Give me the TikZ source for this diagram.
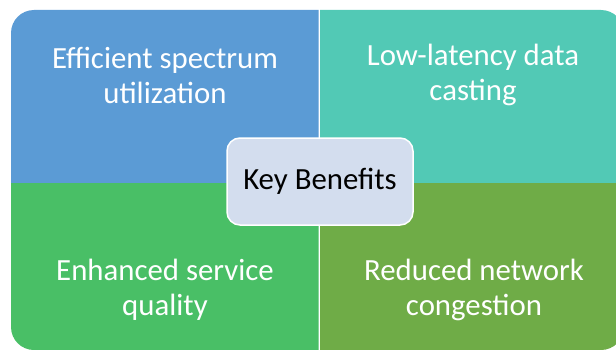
\documentclass[tikz,border=0pt]{standalone}
\usepackage{fontspec}
\setmainfont{Carlito}
\definecolor{quadblue}{HTML}{5B9BD5}
\definecolor{quadteal}{HTML}{52C9B5}
\definecolor{quadgreen}{HTML}{49BF66}
\definecolor{quadolive}{HTML}{6FAC47}
\definecolor{hubfill}{HTML}{D3DDEE}
\tikzset{
  quadtext/.style={text=white,align=center,font=\fontsize{30.8}{35}\selectfont},
  hub/.style={draw=white,line width=1.5pt,fill=hubfill,rounded corners=13pt,
    minimum width=186pt,minimum height=87pt,font=\fontsize{30.8}{35}\selectfont}
}
\begin{document}
\begin{tikzpicture}[x=1pt,y=1pt]
   \useasboundingbox (0,0) rectangle (616,349);
   \clip (0,0) rectangle (616,349);
   \begin{scope}
    \clip (0,167) rectangle (318.5,349);
    \fill[quadblue,rounded corners=23pt] (11,-1) rectangle (624,339);
   \end{scope}
   \begin{scope}
    \clip (320,167) rectangle (616,349);
    \fill[quadteal,rounded corners=23pt] (11,-1) rectangle (624,339);
   \end{scope}
   \begin{scope}
    \clip (0,0) rectangle (318.5,165.5);
    \fill[quadgreen,rounded corners=23pt] (11,-1) rectangle (624,339);
   \end{scope}
   \begin{scope}
    \clip (320,0) rectangle (616,165.5);
    \fill[quadolive,rounded corners=23pt] (11,-1) rectangle (624,339);
   \end{scope}
   \node[quadtext] (spectrum) at (165,274) {Efficient spectrum\\utilization};
   \node[quadtext] (latency) at (473,274) {Low-latency data\\casting};
   \node[quadtext] (service) at (165,59) {Enhanced service\\quality};
   \node[quadtext] (congestion) at (474,59) {Reduced network\\congestion};
   \node[hub] (benefits) at (320,167.5) {Key Benefits};
  \end{tikzpicture}
\end{document}
